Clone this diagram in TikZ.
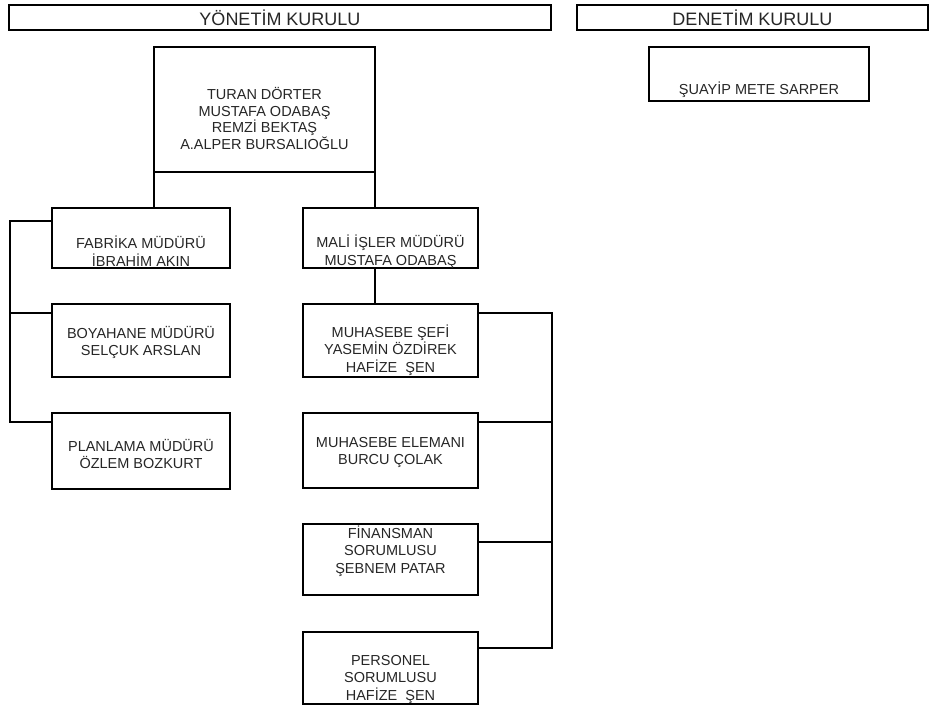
\documentclass[tikz,border=0pt]{standalone}
\usepackage{fontspec}
\setmainfont{Liberation Sans}
\begin{document}
\begin{tikzpicture}[x=1pt,y=-1pt,
  box/.style={draw, line width=2.7pt, rectangle, inner sep=0pt, outer sep=0pt},
  hdr/.style={draw, line width=1.6pt, rectangle, inner sep=0pt, outer sep=0pt,
    font=\fontsize{18}{20}\selectfont, text=black!85},
  txt/.style={align=center, font=\fontsize{14.5}{17.5}\selectfont, text=black!85, inner sep=0pt},
  conn/.style={line width=1.9pt},
  thinconn/.style={line width=1.4pt},
  thickconn/.style={line width=2.7pt}]
\useasboundingbox (0,0) rectangle (935,706);

% headers
\node[hdr, minimum width=542, minimum height=25] (h1) at (280,17.5) {YÖNETİM KURULU};
\node[hdr, minimum width=351, minimum height=25] (h2) at (752.5,17.5) {DENETİM KURULU};

% boxes
\node[box, minimum width=221, minimum height=125] (board) at (264.5,109.5) {};
\node[box, minimum width=220, minimum height=54] (suayip) at (759,74) {};
\node[box, minimum width=178, minimum height=60] (fab) at (141,238) {};
\node[box, minimum width=175, minimum height=60] (mali) at (390.5,238) {};
\node[box, minimum width=178, minimum height=73] (boya) at (141,340.5) {};
\node[box, minimum width=178, minimum height=76] (plan) at (141,451) {};
\node[box, minimum width=175, minimum height=73] (muh) at (390.5,340.5) {};
\node[box, minimum width=175, minimum height=75] (elem) at (390.5,450.5) {};
\node[box, minimum width=175, minimum height=71] (fin) at (390.5,559.5) {};
\node[box, minimum width=175, minimum height=72] (pers) at (390.5,668) {};

% texts
\node[txt, font=\fontsize{14.5}{16.5}\selectfont] (tboard) at (264.5,118.5) {TURAN DÖRTER\\MUSTAFA ODABAŞ\\REMZİ BEKTAŞ\\A.ALPER BURSALIOĞLU};
\node[txt] (tsuayip) at (759,90) {ŞUAYİP METE SARPER};
\node[txt] (tfab) at (141,251) {FABRİKA MÜDÜRÜ\\İBRAHİM AKIN};
\node[txt] (tmali) at (390.5,251.5) {MALİ İŞLER MÜDÜRÜ\\MUSTAFA ODABAŞ};
\node[txt] (tboya) at (141,342.5) {BOYAHANE MÜDÜRÜ\\SELÇUK ARSLAN};
\node[txt] (tplan) at (141,454) {PLANLAMA MÜDÜRÜ\\ÖZLEM BOZKURT};
\node[txt] (tmuh) at (390.5,350) {MUHASEBE ŞEFİ\\YASEMİN ÖZDİREK\\HAFİZE\ \ ŞEN};
\node[txt] (telem) at (390.5,452.5) {MUHASEBE ELEMANI\\BURCU ÇOLAK};
\node[txt] (tfin) at (390.5,551) {FİNANSMAN\\SORUMLUSU\\ŞEBNEM PATAR};
\node[txt] (tpers) at (390.5,679) {PERSONEL\\SORUMLUSU\\HAFİZE\ \ ŞEN};

% connectors from board
\draw[conn] (board.south west) -- (board.south west |- fab.north);
\draw[conn] (board.south east) -- (board.south east |- mali.north);
\draw[thickconn] (board.south east |- mali.south) -- (board.south east |- muh.north);

% left connector
\coordinate (lx) at (10,0);
\coordinate (f1) at ([shift={(0,13)}]fab.north west);
\coordinate (b1) at ([shift={(0,9)}]boya.north west);
\coordinate (p1) at ([shift={(0,9)}]plan.north west);
\draw[conn] (f1) -- (f1 -| lx) -- (p1 -| lx) -- (p1);
\draw[conn] (b1) -- (b1 -| lx);

% right connector
\coordinate (rx) at (552,0);
\coordinate (m1) at ([shift={(0,9)}]muh.north east);
\coordinate (e1) at ([shift={(0,9)}]elem.north east);
\coordinate (n1) at ([shift={(0,18)}]fin.north east);
\coordinate (q1) at ([shift={(0,16)}]pers.north east);
\draw[thinconn] (m1) -- (m1 -| rx) -- (q1 -| rx) -- (q1);
\draw[thinconn] (e1) -- (e1 -| rx);
\draw[thinconn] (n1) -- (n1 -| rx);
\end{tikzpicture}
\end{document}
